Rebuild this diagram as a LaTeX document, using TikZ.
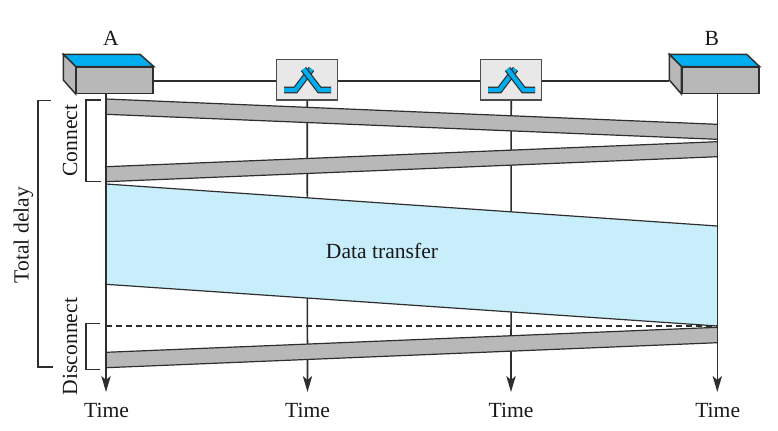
\documentclass[tikz,border=0pt]{standalone}
\usepackage{fontspec}
\setmainfont{Liberation Serif}
\usetikzlibrary{arrows.meta}
\definecolor{inkline}{HTML}{2E2E2E}
\definecolor{topblue}{HTML}{00AEEF}
\definecolor{bandgray}{HTML}{B8B8B8}
\definecolor{routergray}{HTML}{E8E8E8}
\definecolor{datablue}{HTML}{C9EEFB}
\tikzset{
  wire/.style={draw=inkline,line width=1.2pt},
  thinwire/.style={draw=inkline,line width=0.9pt},
  timeline/.style={draw=inkline,line width=1.2pt,-{Stealth[length=12pt,width=7pt,inset=3pt]}},
  frontface/.style={draw=inkline,line width=1.1pt,fill=bandgray,minimum width=57.5pt,minimum height=19.5pt,inner sep=0pt},
  routerbox/.style={draw=inkline!85,line width=1.1pt,fill=routergray,minimum width=45.7pt,minimum height=30.5pt,inner sep=0pt},
  switchline/.style={line width=0.9pt,draw=inkline,double=topblue,double distance=3.2pt,line join=miter},
  lbl/.style={font=\fontsize{16.2}{18}\selectfont,text=black!90,inner sep=0pt},
}
\begin{document}
\begin{tikzpicture}[x=0.75pt,y=-0.75pt]
    \useasboundingbox (0,0) rectangle (778,430);

    % coordinates on the time lines
    \coordinate (startA) at (106,93);
    \coordinate (startB) at (717.3,93);
    \coordinate (endA) at (106,392);
    \coordinate (endR) at (307.5,392);
    \coordinate (endS) at (511,392);
    \coordinate (endB) at (717.3,392);

    % line between the stations
    \coordinate (lineA) at (153,81);
    \coordinate (lineB) at (669.3,81);
    \draw[wire] (lineA) -- (lineB);

    % routers
    \node[routerbox] (routerR) at (307.2,79.7) {};
    \node[routerbox] (routerS) at (511.2,79.7) {};
    \draw[switchline] (284,90) -- (295.5,90) -- (311.5,69);
    \draw[switchline] (331,90) -- (319.5,90) -- (303.5,69);
    \draw[switchline] (488,90) -- (499.5,90) -- (515.5,69);
    \draw[switchline] (535,90) -- (523.5,90) -- (507.5,69);

    % time lines behind the bands
    \draw[timeline] (routerR.south) -- (endR);
    \draw[timeline] (routerS.south) -- (endS);

    % connect
    \fill[bandgray] (106,99) -- (717.3,124.3) -- (717.3,139.3) -- (106,114.3) -- cycle;
    \draw[thinwire] (106,99) -- (717.3,124.3);
    \draw[thinwire] (106,114.3) -- (717.3,139.3);
    \fill[bandgray] (106,166.7) -- (717.3,141.7) -- (717.3,156.7) -- (106,181.7) -- cycle;
    \draw[thinwire] (106,166.7) -- (717.3,141.7);
    \draw[thinwire] (106,181.7) -- (717.3,156.7);

    % data transfer
    \fill[datablue] (106,184) -- (717.3,226) -- (717.3,326) -- (106,284.3) -- cycle;
    \draw[thinwire] (106,184) -- (717.3,226);
    \draw[thinwire] (106,284.3) -- (717.3,326);
    \node[lbl] (dataLabel) at (382,251) {Data transfer};

    % disconnect
    \draw[inkline,line width=1.2pt,dash pattern=on 4.6pt off 2.9pt] (106,326) -- (717.3,326);
    \fill[bandgray] (106,352.3) -- (717.3,327.3) -- (717.3,342.7) -- (106,367.7) -- cycle;
    \draw[thinwire] (106,352.3) -- (717.3,327.3);
    \draw[thinwire] (106,367.7) -- (717.3,342.7);

    \draw[timeline] (startA) -- (endA);
    \draw[timeline] (startB) -- (endB);

    % stations
    \node[frontface] (boxA) at (114.8,80.3) {};
    \draw[wire,line width=1.1pt,fill=topblue] (boxA.north west) -- (63.3,54.3) -- (140,54.3) -- (boxA.north east) -- cycle;
    \draw[wire,line width=1.1pt,fill=bandgray] (boxA.north west) -- (63.3,54.3) -- (63.3,80) -- (boxA.south west) -- cycle;
    \node[frontface] (boxB) at (720.5,80.3) {};
    \draw[wire,line width=1.1pt,fill=topblue] (boxB.north west) -- (669.3,54.3) -- (746.7,54.3) -- (boxB.north east) -- cycle;
    \draw[wire,line width=1.1pt,fill=bandgray] (boxB.north west) -- (669.3,54.3) -- (669.3,80) -- (boxB.south west) -- cycle;

    % brackets
    \draw[thinwire] (100.7,100) -- (86,100) -- (86,181.3) -- (100.7,181.3);
    \draw[thinwire] (99.5,323.3) -- (86,323.3) -- (86,369.5) -- (100,369.5);
    \draw[thinwire] (50.7,100.7) -- (38,100.7) -- (38,367) -- (52.7,367);

    % labels
    \node[lbl] (labelA) at (111,38) {A};
    \node[lbl] (labelB) at (711.7,38) {B};
    \node[lbl,rotate=90] (connectLabel) at (70,140.5) {Connect};
    \node[lbl,rotate=90] (disconnectLabel) at (70,346.5) {Disconnect};
    \node[lbl,rotate=90] (delayLabel) at (23.5,235) {Total delay};
    \node[lbl] (timeA) at (106.5,410) {Time};
    \node[lbl] (timeR) at (307.5,410) {Time};
    \node[lbl] (timeS) at (511,410) {Time};
    \node[lbl] (timeB) at (717.7,410) {Time};
\end{tikzpicture}
\end{document}
